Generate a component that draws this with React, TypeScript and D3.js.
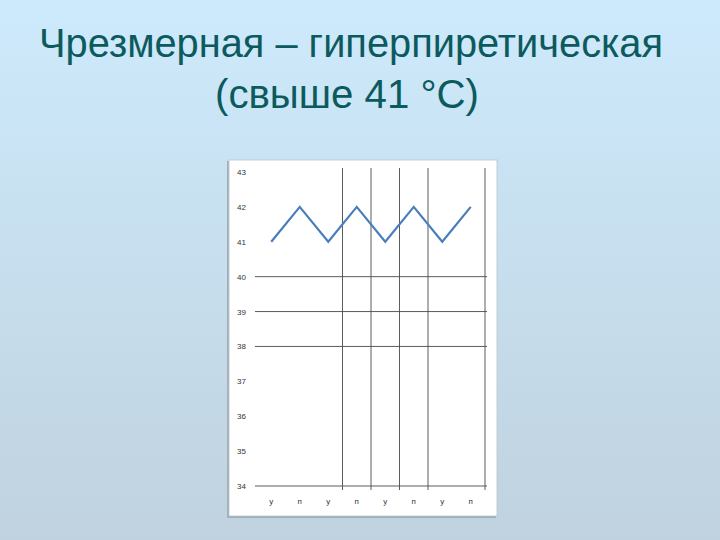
import React, { useEffect, useRef } from "react";
import * as d3 from "d3";

// chart data
const categories = ["у", "п", "у", "п", "у", "п", "у", "п"];
const temps = [41, 42, 41, 42, 41, 42, 41, 42];
const yTicks = [43, 42, 41, 40, 39, 38, 37, 36, 35, 34];
const hGridValues = [40, 39, 38, 34];
const vGridBoundaries = [3, 4, 5, 6, 8];
const titleLines = ["Чрезмерная – гиперпиретическая", "(свыше 41 °С)"];

function App() {
  const svgRef: any = useRef(null);

  useEffect(() => {
    draw();
  }, []);

  const draw = () => {
    const svg = d3.select(svgRef.current);
    svg.selectAll("*").remove();

    const defs = svg.append("defs");
    const grad = defs
      .append("linearGradient")
      .attr("id", "bg")
      .attr("x1", 0)
      .attr("y1", 0)
      .attr("x2", 0)
      .attr("y2", 1);
    grad.append("stop").attr("offset", "0%").attr("stop-color", "#cdeafc");
    grad.append("stop").attr("offset", "100%").attr("stop-color", "#c0d2df");

    svg.append("rect").attr("width", 720).attr("height", 540).attr("fill", "url(#bg)");

    // title
    titleLines.forEach((t, i) => {
      svg
        .append("text")
        .attr("x", i === 0 ? 351 : 347)
        .attr("y", i === 0 ? 57 : 108)
        .attr("text-anchor", "middle")
        .attr("textLength", i === 0 ? 624 : 264)
        .attr("lengthAdjust", "spacingAndGlyphs")
        .attr("font-family", "'Liberation Sans', Arial, sans-serif")
        .attr("font-size", 40)
        .attr("fill", "#0c5a5e")
        .text(t);
    });

    // chart card with a light shadow
    svg
      .append("rect")
      .attr("x", 227)
      .attr("y", 161)
      .attr("width", 269)
      .attr("height", 357)
      .attr("fill", "#9fb0bb");
    svg
      .append("rect")
      .attr("x", 229)
      .attr("y", 160)
      .attr("width", 268)
      .attr("height", 356)
      .attr("fill", "#ffffff")
      .attr("stroke", "#b8c3ca")
      .attr("stroke-width", 0.8);

    const x = d3.scaleBand().domain(d3.range(categories.length).map(String)).range([258, 486]);
    const y = d3.scaleLinear().domain([34, 43]).range([486, 172]);

    const g = svg.append("g");

    // horizontal gridlines
    g.selectAll(".hgrid")
      .data(hGridValues)
      .enter()
      .append("line")
      .attr("x1", 255)
      .attr("x2", 487)
      .attr("y1", (d) => y(d))
      .attr("y2", (d) => y(d))
      .attr("stroke", "#4a4a4a")
      .attr("stroke-width", 0.9);

    // vertical gridlines at band boundaries
    const step = x.step();
    g.selectAll(".vgrid")
      .data(vGridBoundaries)
      .enter()
      .append("line")
      .attr("x1", (d) => 258 + d * step - 1)
      .attr("x2", (d) => 258 + d * step - 1)
      .attr("y1", y(43) - 4)
      .attr("y2", y(34) + 4)
      .attr("stroke", "#4a4a4a")
      .attr("stroke-width", 0.9);

    // y labels
    g.selectAll(".ylab")
      .data(yTicks)
      .enter()
      .append("text")
      .attr("x", 237)
      .attr("y", (d) => y(d) + 3)
      .attr("font-family", "'Liberation Sans', Arial, sans-serif")
      .attr("font-size", 8)
      .attr("fill", "#333")
      .text((d) => d);

    // x labels
    g.selectAll(".xlab")
      .data(categories)
      .enter()
      .append("text")
      .attr("x", (d, i) => (x(String(i)) as number) + x.bandwidth() / 2 - 1)
      .attr("y", 504)
      .attr("text-anchor", "middle")
      .attr("font-family", "'Liberation Sans', Arial, sans-serif")
      .attr("font-size", 8)
      .attr("fill", "#333")
      .text((d) => d);

    // temperature line
    const line = d3
      .line<number>()
      .x((d, i) => (x(String(i)) as number) + x.bandwidth() / 2 - 1)
      .y((d) => y(d));
    g.append("path")
      .datum(temps)
      .attr("fill", "none")
      .attr("stroke", "#4a7ebb")
      .attr("stroke-width", 2.2)
      .attr("stroke-linejoin", "miter")
      .attr("d", line as any);
  };

  return (
    <div style={{ position: "fixed", left: 0, top: 0 }}>
      <svg ref={svgRef} width={720} height={540} style={{ display: "block" }} />
    </div>
  );
}

export default App;
